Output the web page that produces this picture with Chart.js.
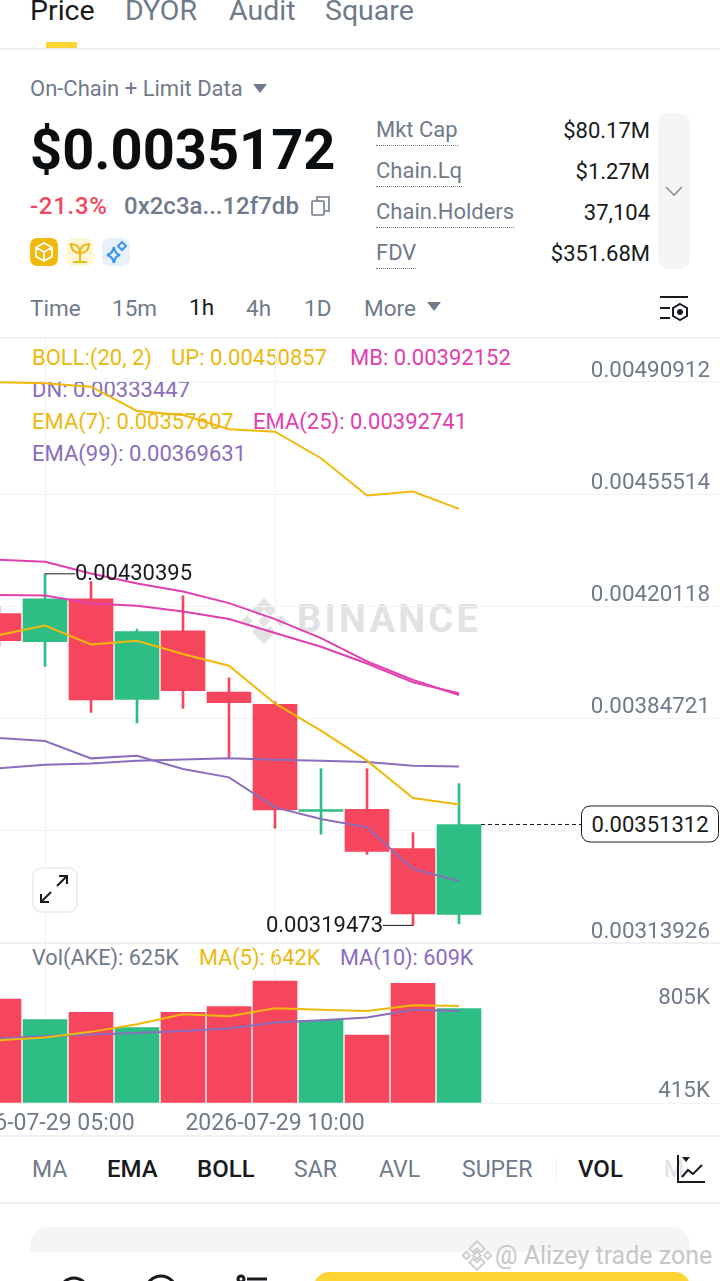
<!DOCTYPE html>
<html>
<head>
<meta charset="utf-8">
<title>AKE price</title>
<script src="https://cdn.jsdelivr.net/npm/chart.js@4"></script>
<style>
  html, body { margin: 0; padding: 0; background: #fff; }
  body { position: relative; width: 720px; height: 1281px; overflow: hidden; font-family: Roboto, sans-serif; color: #707a8a; }
  .t { position: absolute; white-space: nowrap; transform: translateY(-50%); font-size: 22px; line-height: 1.2; }
  .k { color: #181a20; }
  .b { font-weight: 500; font-size: 24px; }
  .yel { color: #ecb90f; } .mag { color: #e040ae; } .pur { color: #8a6dbd; }
  .under { border-bottom: 1.5px dotted #707a8a; padding-bottom: 2px; transform: none; }
  .line { position: absolute; left: 0; width: 720px; height: 1.5px; background: #eff0f2; }
  canvas { position: absolute; left: -24px; }
  svg { position: absolute; }
</style>
</head>
<body>

<!-- top tabs -->
<div class="t k" style="left:30px;top:11px;font-size:28.5px">Price</div>
<div class="t" style="left:125px;top:11px;font-size:28.5px">DYOR</div>
<div class="t" style="left:229px;top:11px;font-size:28.5px">Audit</div>
<div class="t" style="left:325px;top:11px;font-size:28.5px">Square</div>
<div style="position:absolute;left:46px;top:42px;width:31px;height:6px;background:#fcd535"></div>
<div class="line" style="top:48px"></div>

<!-- price header -->
<div class="t" style="left:30px;top:89px">On-Chain + Limit Data</div>
<svg style="left:252px;top:84px" width="16" height="10"><path d="M1 0H15L8 9Z" fill="#707a8a"/></svg>
<div class="t k" style="left:30px;top:151px;font-size:56px;font-weight:700;color:#0b0e11">$0.0035172</div>
<div class="t" style="left:30px;top:206px;font-size:24px;font-weight:500;letter-spacing:.7px;color:#f6465d">-21.3%</div>
<div class="t" style="left:124px;top:206px;font-size:24px;font-weight:500">0x2c3a...12f7db</div>
<svg style="left:310px;top:195px" width="22" height="22" fill="none" stroke="#707a8a" stroke-width="1.6"><rect x="2" y="6" width="12" height="14" rx="1"/><path d="M7 6V2H19V16H14"/></svg>
<svg style="left:30px;top:238px" width="28" height="28"><rect width="28" height="28" rx="7" fill="#f0b90b"/><path d="M14 5L22 9.5V18.5L14 23L6 18.5V9.5ZM6 9.5L14 14L22 9.5M14 14V23" fill="none" stroke="#fff" stroke-width="1.8"/></svg>
<svg style="left:66px;top:238px" width="28" height="28"><rect width="28" height="28" rx="7" fill="#fdf6d8"/><path d="M14 14V24M7 24H21M14 15C9 15 5 12 5 6C10 6 14 9 14 15C14 9 18 6 23 6C23 12 19 15 14 15Z" fill="none" stroke="#ecb90f" stroke-width="2.2"/></svg>
<svg style="left:102px;top:238px" width="28" height="28"><rect width="28" height="28" rx="7" fill="#e6f1fc"/><path d="M12 9C12.5 14 14 16 18 17C14 18 12.5 20 12 25C11 20 9 18 5 17C9 16 11 14 12 9Z" fill="none" stroke="#3d93ea" stroke-width="2.2"/><path d="M20 4L24 8L20 12L16 8Z" fill="none" stroke="#3d93ea" stroke-width="2"/></svg>

<!-- stats -->
<div class="t under" style="left:376px;top:117px">Mkt Cap</div>
<div class="t k" style="right:70px;top:131px">$80.17M</div>
<div class="t under" style="left:376px;top:158px">Chain.Lq</div>
<div class="t k" style="right:70px;top:172px">$1.27M</div>
<div class="t under" style="left:376px;top:199px">Chain.Holders</div>
<div class="t k" style="right:70px;top:213px">37,104</div>
<div class="t under" style="left:376px;top:240px">FDV</div>
<div class="t k" style="right:70px;top:254px">$351.68M</div>
<div style="position:absolute;left:658px;top:113px;width:32px;height:156px;border-radius:10px;background:#f5f5f5"></div>
<svg style="left:665px;top:185px" width="18" height="12" fill="none" stroke="#8a929e" stroke-width="1.6"><path d="M1 2L9 10L17 2"/></svg>

<!-- intervals -->
<div class="t" style="left:30px;top:308px;font-size:22.5px">Time</div>
<div class="t" style="left:112px;top:308px;font-size:22.5px">15m</div>
<div class="t k" style="left:189px;top:307px;font-size:22.5px">1h</div>
<div class="t" style="left:246px;top:308px;font-size:22.5px">4h</div>
<div class="t" style="left:304px;top:308px;font-size:22.5px">1D</div>
<div class="t" style="left:364px;top:308px;font-size:22.5px">More</div>
<svg style="left:426px;top:302px" width="16" height="10"><path d="M1 0H15L8 9Z" fill="#707a8a"/></svg>
<svg style="left:659px;top:295px" width="30" height="26" fill="none" stroke="#181a20" stroke-width="2"><path d="M1 2H29M1 13H11M1 23H11"/><path d="M21 9L28 13V21L21 25L14 21V13Z"/><circle cx="21" cy="17" r="2" fill="#181a20"/></svg>

<div class="line" style="top:337px"></div>
<div class="line" style="top:942px"></div>

<!-- watermark -->
<svg style="left:240px;top:597px" width="48" height="48" fill="#e2e2e2"><path d="M24 1L36 13L30 19L24 13L18 19L12 13ZM1 24L7 18L13 24L7 30ZM35 24L41 18L47 24L41 30ZM24 18L30 24L24 30L18 24ZM12 35L18 29L24 35L30 29L36 35L24 47Z"/></svg>
<div class="t" style="left:297px;top:620px;font-size:38px;font-weight:700;color:#e2e2e2;letter-spacing:3.3px">BINANCE</div>

<!-- indicator legends -->
<div class="t yel" style="left:32px;top:358px">BOLL:(20, 2)</div>
<div class="t yel" style="left:171px;top:358px">UP: 0.00450857</div>
<div class="t mag" style="left:350px;top:358px">MB: 0.00392152</div>
<div class="t pur" style="left:32px;top:390px">DN: 0.00333447</div>
<div class="t yel" style="left:32px;top:422px">EMA(7): 0.00357607</div>
<div class="t mag" style="left:253px;top:422px">EMA(25): 0.00392741</div>
<div class="t pur" style="left:32px;top:454px">EMA(99): 0.00369631</div>
<div class="t" style="left:32px;top:958px;font-size:21.7px">Vol(AKE): 625K</div>
<div class="t yel" style="left:199px;top:958px;font-size:21.7px">MA(5): 642K</div>
<div class="t pur" style="left:340px;top:958px;font-size:21.7px">MA(10): 609K</div>

<canvas id="priceChart" width="782" height="604" style="top:339px"></canvas>
<canvas id="volChart" width="782" height="193" style="top:942px"></canvas>

<!-- last price tag and expand button -->
<div class="t k" style="left:581px;top:824px;width:136px;height:35px;border:1.5px solid #181a20;border-radius:9px;background:#fff;text-align:center;line-height:35px">0.00351312</div>
<div style="position:absolute;left:32px;top:867px;width:42px;height:42px;border:2px solid #eeeeee;border-radius:9px;background:#fff"></div>
<svg style="left:39px;top:874px" width="30" height="30" fill="none" stroke="#181a20" stroke-width="2"><path d="M18 12L28 2M20 2H28V10M12 18L2 28M2 20V28H10"/></svg>

<!-- indicator tabs -->
<div class="line" style="top:1135px"></div>
<div class="t" style="left:32px;top:1170px;font-size:23px">MA</div>
<div class="t k b" style="left:107px;top:1169px">EMA</div>
<div class="t k b" style="left:197px;top:1169px">BOLL</div>
<div class="t" style="left:294px;top:1170px;font-size:23px">SAR</div>
<div class="t" style="left:379px;top:1170px;font-size:23px">AVL</div>
<div class="t" style="left:462px;top:1170px;font-size:23px">SUPER</div>
<div style="position:absolute;left:556px;top:1158px;width:1px;height:24px;background:#eff0f2"></div>
<div class="t k b" style="left:578px;top:1169px">VOL</div>
<div class="t" style="left:664px;top:1170px;font-size:23px;color:#dfe1e4">M</div>
<svg style="left:675px;top:1153px" width="32" height="32" fill="none" stroke="#181a20" stroke-width="2"><path d="M3 2V29H30"/><path d="M7 24L13 17L18 21L27 12"/><path d="M7 4H15L11 9Z" fill="#181a20" stroke="none"/></svg>
<div class="line" style="top:1202px"></div>

<!-- bottom bar -->
<div style="position:absolute;left:30px;top:1227px;width:660px;height:25px;border-radius:18px 18px 0 0;background:#f5f5f5"></div>
<svg style="left:50px;top:1270px" width="230" height="11" fill="none" stroke="#181a20" stroke-width="3"><circle cx="24" cy="22" r="14"/><circle cx="111" cy="21" r="15"/><path d="M197 9H217"/><circle cx="191" cy="9" r="3"/></svg>
<div style="position:absolute;left:314px;top:1272px;width:376px;height:30px;border-radius:16px;background:#fcd535"></div>
<svg style="left:462px;top:1240px" width="30" height="31" viewBox="0 0 48 48" fill="none" stroke="#cdcdcd" stroke-width="3"><path d="M24 1L36 13L30 19L24 13L18 19L12 13ZM1 24L7 18L13 24L7 30ZM35 24L41 18L47 24L41 30ZM24 18L30 24L24 30L18 24ZM12 35L18 29L24 35L30 29L36 35L24 47Z"/></svg>
<div class="t" style="left:495px;top:1256px;font-size:25px;color:#c6c6c6">@ Alizey trade zone</div>

<script>
// hourly candles, the last few slots stay empty like the free space right of the last candle
const timeLabels = [
  "2026-07-29 04:00", "2026-07-29 05:00", "2026-07-29 06:00", "2026-07-29 07:00",
  "2026-07-29 08:00", "2026-07-29 09:00", "2026-07-29 10:00", "2026-07-29 11:00",
  "2026-07-29 12:00", "2026-07-29 13:00", "2026-07-29 14:00", "2026-07-29 15:00",
  "2026-07-29 16:00", "2026-07-29 17:00", "2026-07-29 18:00", "2026-07-29 19:00",
  "2026-07-29 20:00"
];
const shownTimes = ["2026-07-29 05:00", "2026-07-29 10:00"];

const opens  = [0.0041788, 0.0040896, 0.0042251, 0.0039077, 0.0041242, 0.0039310, 0.0038919, 0.0035546, 0.0035610, 0.0034371, 0.0032291];
const closes = [0.0040927, 0.0042251, 0.0039058, 0.0041220, 0.0039351, 0.0038973, 0.0035591, 0.0035600, 0.0034285, 0.0032312, 0.00351312];
const highs  = [0.0041999, 0.00430395, 0.0042796, 0.0041296, 0.0042346, 0.0039761, 0.0039004, 0.0036892, 0.0036892, 0.0034875, 0.0036420];
const lows   = [0.0040769, 0.0040117, 0.0038667, 0.0038333, 0.0038793, 0.0037208, 0.0035011, 0.0034821, 0.0034191, 0.00319473, 0.0031997];

const bollUp  = [0.0049081, 0.0049050, 0.0048943, 0.0048177, 0.0048051, 0.0047600, 0.0047524, 0.0046686, 0.0045507, 0.0045633, 0.00450857];
const bollMb  = [0.0043480, 0.0043417, 0.0043048, 0.0042733, 0.0042481, 0.0042115, 0.0041611, 0.0041012, 0.0040275, 0.0039688, 0.00392152];
const bollDn  = [0.0037860, 0.0037765, 0.0037217, 0.0037302, 0.0036883, 0.0036618, 0.0035672, 0.0035307, 0.0035042, 0.0033731, 0.00333447];
const ema7    = [0.0041107, 0.0041409, 0.0040811, 0.0040927, 0.0040508, 0.0040139, 0.0038951, 0.0038090, 0.0037145, 0.0035969, 0.00357607];
const ema25   = [0.0042367, 0.0042355, 0.0042103, 0.0042030, 0.0041851, 0.0041611, 0.0041170, 0.0040738, 0.0040211, 0.0039613, 0.00392741];
const ema99   = [0.0036902, 0.0037018, 0.0037059, 0.0037145, 0.0037185, 0.0037217, 0.0037176, 0.0037145, 0.0037103, 0.0036987, 0.00369631];

const volumes = [688, 552, 601, 500, 601, 638, 807, 548, 449, 792, 625];
const volMa5  = [416, 434, 471, 521, 587, 574, 627, 618, 609, 647, 642];
const volMa10 = [427, 442, 453, 464, 477, 493, 533, 548, 566, 618, 609];

const priceTicks = [0.00490912, 0.00455514, 0.00420118, 0.00384721, 0.00349324, 0.00313926];
const priceTickLabels = ["0.00490912", "0.00455514", "0.00420118", "0.00384721", "", "0.00313926"];
const volTicks = [612, 0];
const volTickLabels = ["805K", "415K"];

const UP = "#2ebd85";
const DOWN = "#f6465d";
const GRID = "#f2f3f4";
const GREY = "#707a8a";
const FONT = "Roboto, sans-serif";

const candleColors = closes.map((c, i) => (c >= opens[i] ? UP : DOWN));
const last = closes.length - 1;

function lineSet(data, color) {
  return { type: "line", data: data, borderColor: color, borderWidth: 2, pointRadius: 0, tension: 0, order: 0 };
}

function xAxis(showLabels) {
  return {
    offset: true,
    border: { display: false },
    grid: {
      offset: false,
      drawTicks: false,
      color: (ctx) => (shownTimes.includes(timeLabels[ctx.index]) ? GRID : "transparent"),
    },
    ticks: {
      display: showLabels,
      autoSkip: false,
      maxRotation: 0,
      padding: 7,
      color: GREY,
      font: { family: FONT, size: 23 },
      callback: function (value) {
        const label = this.getLabelForValue(value);
        return shownTimes.includes(label) ? label : "";
      },
    },
    afterFit: (scale) => {
      scale.height = showLabels ? 32 : 0;
      scale.paddingLeft = 0;
      scale.paddingRight = 0;
    },
  };
}

function yAxis(min, max, ticks, labels, offset, lineColor) {
  return {
    position: "right",
    min: min,
    max: max,
    border: { display: false },
    afterBuildTicks: (scale) => { scale.ticks = ticks.map((v) => ({ value: v })); },
    afterFit: (scale) => {
      // labels sit inside the plot, so the axis takes no room of its own
      scale.width = 0;
      scale.paddingTop = 0;
      scale.paddingBottom = 0;
    },
    grid: { drawTicks: false, color: lineColor },
    ticks: {
      mirror: true,
      padding: -48,
      labelOffset: offset,
      autoSkip: false,
      color: GREY,
      font: { family: FONT, size: 22.4 },
      callback: (value, i) => labels[i],
    },
  };
}

// high / low markers and the dashed line to the last price tag
const priceMarks = {
  id: "priceMarks",
  afterDatasetsDraw(chart) {
    const { ctx, scales } = chart;
    const hi = highs.indexOf(Math.max(...highs));
    const lo = lows.indexOf(Math.min(...lows));
    const hx = scales.x.getPixelForValue(hi), hy = scales.y.getPixelForValue(highs[hi]);
    const lx = scales.x.getPixelForValue(lo), ly = scales.y.getPixelForValue(lows[lo]);
    const cx = scales.x.getPixelForValue(last), cy = scales.y.getPixelForValue(closes[last]);
    ctx.save();
    ctx.strokeStyle = "#181a20";
    ctx.fillStyle = "#181a20";
    ctx.lineWidth = 1;
    ctx.font = "22px " + FONT;
    ctx.textBaseline = "middle";
    ctx.beginPath();
    ctx.moveTo(hx, hy); ctx.lineTo(hx + 30, hy);
    ctx.moveTo(lx, ly); ctx.lineTo(lx - 30, ly);
    ctx.stroke();
    ctx.textAlign = "left";
    ctx.fillText(highs[hi].toFixed(8), hx + 30, hy + 1);
    ctx.textAlign = "right";
    ctx.fillText(lows[lo].toFixed(8), lx - 30, ly + 1);
    ctx.setLineDash([4, 3]);
    ctx.beginPath();
    ctx.moveTo(cx + 22, cy); ctx.lineTo(605, cy);
    ctx.stroke();
    ctx.restore();
  },
};

Chart.defaults.animation = false;
Chart.defaults.responsive = false;

new Chart(document.getElementById("priceChart"), {
  type: "bar",
  plugins: [priceMarks],
  data: {
    labels: timeLabels,
    datasets: [
      lineSet(bollUp, "#f0b90b"),
      lineSet(bollMb, "#e040ae"),
      lineSet(bollDn, "#8a6dbd"),
      lineSet(ema7, "#f0b90b"),
      lineSet(ema25, "#e040ae"),
      lineSet(ema99, "#8a6dbd"),
      { data: opens.map((o, i) => [o, closes[i]]), backgroundColor: candleColors, barThickness: 44, grouped: false, order: 1 },
      { data: lows.map((l, i) => [l, highs[i]]), backgroundColor: candleColors, barThickness: 2, grouped: false, order: 2 },
    ],
  },
  options: {
    layout: { padding: 0 },
    plugins: { legend: { display: false }, tooltip: { enabled: false } },
    scales: {
      x: xAxis(false),
      y: yAxis(0.00313926, 0.00504466, priceTicks, priceTickLabels, -11, GRID),
    },
  },
});

new Chart(document.getElementById("volChart"), {
  type: "bar",
  data: {
    labels: timeLabels,
    datasets: [
      lineSet(volMa5, "#f0b90b"),
      lineSet(volMa10, "#8a6dbd"),
      { data: volumes, backgroundColor: candleColors, barThickness: 44, order: 1 },
    ],
  },
  options: {
    layout: { padding: 0 },
    plugins: { legend: { display: false }, tooltip: { enabled: false } },
    scales: {
      x: xAxis(true),
      y: yAxis(0, 1066, volTicks, volTickLabels, -12, (ctx) => (ctx.tick.value === 0 ? GRID : "transparent")),
    },
  },
});
</script>
</body>
</html>
